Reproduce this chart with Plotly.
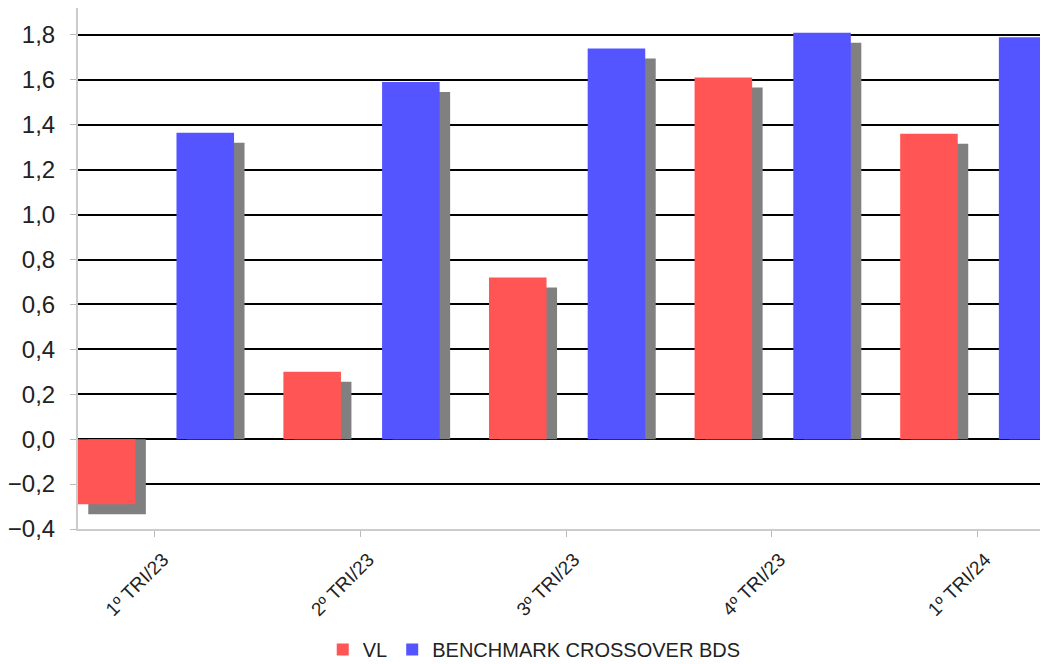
import plotly.graph_objects as go

categories = ["1º TRI/23", "2º TRI/23", "3º TRI/23", "4º TRI/23", "1º TRI/24"]
vl = [-0.29, 0.30, 0.72, 1.61, 1.36]
bench = [1.365, 1.59, 1.74, 1.81, 1.79]

RED = "#ff5555"
BLUE = "#5555ff"
SHADOW = "#808080"
BAR_W = 0.28
RED_OFF = -0.375
BLUE_OFF = 0.105
SH_DX = 0.051
SH_DY = 0.0445

fig = go.Figure()

# shadows first (behind)
fig.add_trace(go.Bar(x=categories, y=[v - SH_DY for v in vl], width=BAR_W,
                     offset=RED_OFF + SH_DX, marker=dict(color=SHADOW, line=dict(width=0)),
                     showlegend=False, hoverinfo="skip"))
fig.add_trace(go.Bar(x=categories, y=[v - SH_DY for v in bench], width=BAR_W,
                     offset=BLUE_OFF + SH_DX, marker=dict(color=SHADOW, line=dict(width=0)),
                     showlegend=False, hoverinfo="skip"))

fig.add_trace(go.Bar(x=categories, y=vl, name="VL", width=BAR_W, offset=RED_OFF,
                     marker=dict(color=RED, line=dict(width=0))))
fig.add_trace(go.Bar(x=categories, y=bench, name="BENCHMARK CROSSOVER BDS", width=BAR_W,
                     offset=BLUE_OFF, marker=dict(color=BLUE, line=dict(width=0))))

FONT = "Liberation Sans, Arial, sans-serif"

# page body has an 8px margin, so the figure is sized to end at the window edge
fig.update_layout(
    width=1040, height=656,
    barmode="overlay",
    separators=",.",
    margin=dict(l=68, r=0, t=0, b=135),
    paper_bgcolor="white", plot_bgcolor="white",
    font=dict(family=FONT, color="#222222"),
    xaxis=dict(
        type="category", range=[-0.374, 4.344],
        showgrid=False, showline=True, linecolor="#cccccc", linewidth=2,
        ticks="outside", ticklen=6, tickcolor="#bbbbbb", tickwidth=1,
        tickangle=-45, tickfont=dict(size=19, family=FONT, color="#222222"),
        ticklabelshift=8, ticklabelstandoff=4,
    ),
    yaxis=dict(
        range=[-0.4, 1.92], dtick=0.2, tick0=0, tickformat=".1f",
        showgrid=True, gridcolor="#000000", gridwidth=2, zeroline=False,
        showline=True, linecolor="#cccccc", linewidth=2,
        ticks="outside", ticklen=6, tickcolor="#bbbbbb", tickwidth=1,
        tickfont=dict(size=24, family=FONT, color="#222222"),
        ticklabelstandoff=10,
    ),
    legend=dict(
        orientation="h", xref="container", yref="container",
        x=0.506, xanchor="center", y=0.022, yanchor="middle",
        font=dict(size=20, family=FONT, color="#222222"),
        bgcolor="rgba(0,0,0,0)",
    ),
)

fig.write_html("out.html")
